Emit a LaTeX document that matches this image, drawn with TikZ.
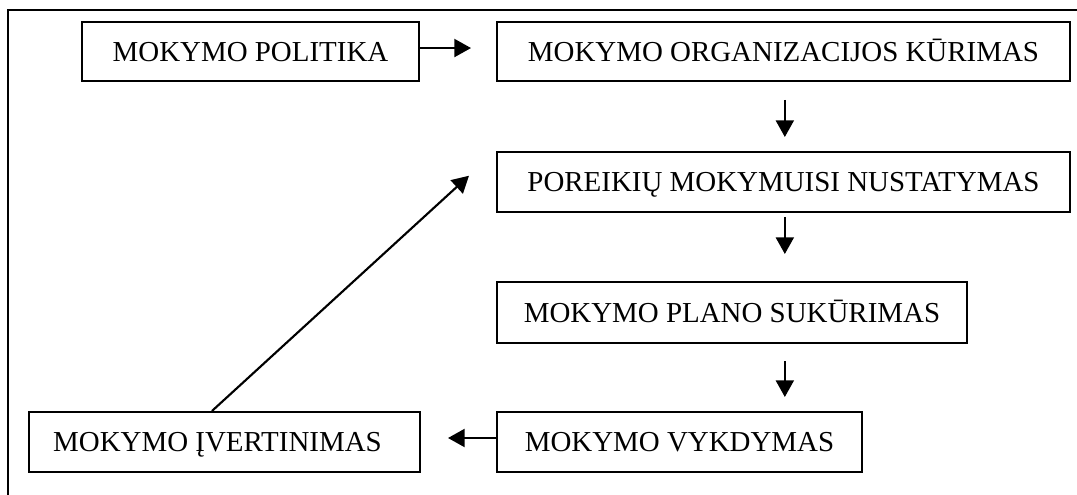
\documentclass[tikz,border=0pt]{standalone}
\usepackage{fontspec}
\setmainfont{Liberation Serif}
\usetikzlibrary{arrows.meta}
\begin{document}
\begin{tikzpicture}[x=0.75pt,y=-0.75pt,
  stepbox/.style={draw, line width=1.5pt, inner sep=0pt, text height=14.3pt, text depth=0pt, font=\fontsize{21.7pt}{24pt}\selectfont},
  arr/.style={line width=1.6pt, -{Triangle[length=12.5pt,width=13.5pt]}},
  frameline/.style={line width=1.4pt}]
\useasboundingbox (0,0) rectangle (1077,495);
\coordinate (fl) at (8,495);
\coordinate (fc) at (8,10);
\coordinate (fr) at (1077,10);
\draw[frameline] (fl) -- (fc) -- (fr);
\node[stepbox, minimum width=252.75pt, minimum height=44.25pt] (b1) at (250.5,51.5) {MOKYMO POLITIKA};
\node[stepbox, minimum width=429.75pt, minimum height=44.25pt] (b2) at (783.5,51.5) {MOKYMO ORGANIZACIJOS KŪRIMAS};
\node[stepbox, minimum width=429.75pt, minimum height=45pt] (b3) at (783.5,182) {POREIKIŲ MOKYMUISI NUSTATYMAS};
\node[stepbox, minimum width=352.5pt, minimum height=45.75pt] (b4) at (732,312.5) {MOKYMO PLANO SUKŪRIMAS};
\node[stepbox, minimum width=273.75pt, minimum height=45pt] (b5) at (679.5,442) {MOKYMO VYKDYMAS};
\node[stepbox, minimum width=293.25pt, minimum height=45pt] (b6) at (224.5,442) {\hspace*{-10.5pt}MOKYMO ĮVERTINIMAS};
% connectors
\draw[arr, shorten >=18.75pt] ([yshift=2.6pt]b1.east) -- ([yshift=2.6pt]b2.west);
\draw[arr, shorten <=13.5pt, shorten >=10.5pt] ([xshift=1pt]b2.south) -- ([xshift=1pt]b3.north);
\draw[arr, shorten <=3pt, shorten >=20.25pt] ([xshift=1pt]b3.south) -- ([xshift=1pt]b3.south |- b4.north);
\draw[arr, shorten <=12.75pt, shorten >=10.5pt] ([xshift=1pt]b3.south |- b4.south) -- ([xshift=1pt]b3.south |- b5.north);
\draw[arr, shorten >=20.25pt] ([yshift=3pt]b5.west) -- ([yshift=3pt]b6.east);
\draw[arr, shorten >=27.5pt] ([xshift=-9.4pt]b6.north) -- (b3.north west);
\end{tikzpicture}
\end{document}
